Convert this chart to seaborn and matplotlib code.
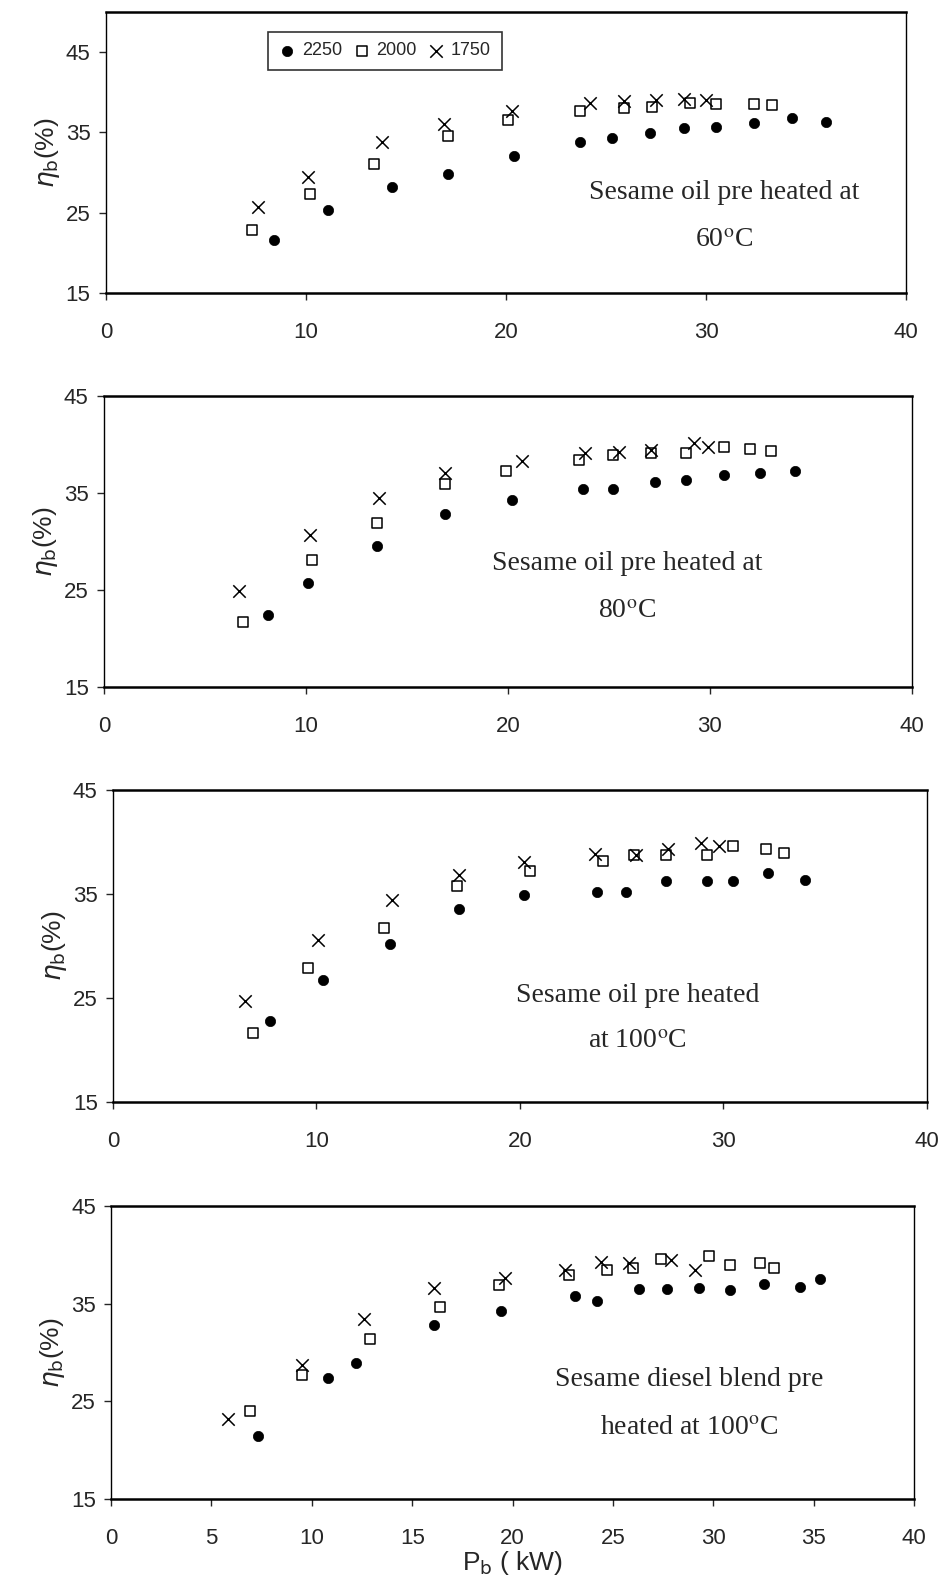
import numpy as np
import pandas as pd
import matplotlib.pyplot as plt
import seaborn as sns

sns.set_style("ticks")
plt.rcParams['font.family'] = ['Liberation Sans', 'DejaVu Sans']

# Panel 1: sesame oil pre heated at 60 C
p60_x_2250 = [8.4, 11.1, 14.3, 17.1, 20.4, 23.7, 25.3, 27.2, 28.9, 30.5, 32.4, 34.3, 36.0]
p60_y_2250 = [21.6, 25.3, 28.2, 29.8, 32.0, 33.8, 34.3, 34.9, 35.5, 35.7, 36.1, 36.8, 36.3]
p60_x_2000 = [7.3, 10.2, 13.4, 17.1, 20.1, 23.7, 25.9, 27.3, 29.2, 30.5, 32.4, 33.3]
p60_y_2000 = [22.8, 27.3, 31.0, 34.5, 36.5, 37.7, 38.0, 38.2, 38.6, 38.5, 38.5, 38.4]
p60_x_1750 = [7.6, 10.1, 13.8, 16.9, 20.3, 24.2, 25.9, 27.5, 28.9, 30.0]
p60_y_1750 = [25.7, 29.4, 33.8, 36.0, 37.7, 38.6, 38.9, 39.0, 39.2, 39.0]

# Panel 2: 80 C
p80_x_2250 = [8.1, 10.1, 13.5, 16.9, 20.2, 23.7, 25.2, 27.3, 28.8, 30.7, 32.5, 34.2]
p80_y_2250 = [22.4, 25.7, 29.5, 32.8, 34.3, 35.4, 35.4, 36.1, 36.3, 36.8, 37.0, 37.3]
p80_x_2000 = [6.9, 10.3, 13.5, 16.9, 19.9, 23.5, 25.2, 27.1, 28.8, 30.7, 32.0, 33.0]
p80_y_2000 = [21.7, 28.1, 31.9, 35.9, 37.3, 38.4, 38.9, 39.1, 39.1, 39.7, 39.5, 39.3]
p80_x_1750 = [6.7, 10.2, 13.6, 16.9, 20.7, 23.8, 25.5, 27.1, 29.2, 29.9]
p80_y_1750 = [24.9, 30.7, 34.5, 37.0, 38.3, 39.1, 39.2, 39.4, 40.1, 39.7]

# Panel 3: 100 C
p100_x_2250 = [7.7, 10.3, 13.6, 17.0, 20.2, 23.8, 25.2, 27.2, 29.2, 30.5, 32.2, 34.0]
p100_y_2250 = [22.8, 26.7, 30.2, 33.6, 34.9, 35.2, 35.2, 36.3, 36.3, 36.3, 37.0, 36.4]
p100_x_2000 = [6.9, 9.6, 13.3, 16.9, 20.5, 24.1, 25.6, 27.2, 29.2, 30.5, 32.1, 33.0]
p100_y_2000 = [21.6, 27.9, 31.7, 35.8, 37.2, 38.2, 38.8, 38.8, 38.8, 39.6, 39.3, 39.0]
p100_x_1750 = [6.5, 10.1, 13.7, 17.0, 20.2, 23.7, 25.7, 27.3, 28.9, 29.8]
p100_y_1750 = [24.7, 30.6, 34.4, 36.8, 38.1, 38.9, 38.8, 39.3, 39.9, 39.6]

# Panel 4: sesame diesel blend pre heated at 100 C
blend_x_2250 = [7.3, 10.8, 12.2, 16.1, 19.4, 23.1, 24.2, 26.3, 27.7, 29.3, 30.8, 32.5, 34.3, 35.3]
blend_y_2250 = [21.5, 27.4, 28.9, 32.8, 34.3, 35.8, 35.3, 36.5, 36.5, 36.6, 36.4, 37.0, 36.7, 37.5]
blend_x_2000 = [6.9, 9.5, 12.9, 16.4, 19.3, 22.8, 24.7, 26.0, 27.4, 29.8, 30.8, 32.3, 33.0]
blend_y_2000 = [24.0, 27.7, 31.4, 34.7, 36.9, 38.0, 38.5, 38.7, 39.6, 39.9, 39.0, 39.2, 38.7]
blend_x_1750 = [5.8, 9.5, 12.6, 16.1, 19.6, 22.6, 24.4, 25.8, 27.9, 29.1]
blend_y_1750 = [23.2, 28.7, 33.5, 36.6, 37.6, 38.5, 39.3, 39.2, 39.5, 38.5]

speeds = ['2250', '2000', '1750']
notes = [('Sesame oil pre heated at', '60$^{\\rm o}$C'),
         ('Sesame oil pre heated at', '80$^{\\rm o}$C'),
         ('Sesame oil pre heated', 'at 100$^{\\rm o}$C'),
         ('Sesame diesel blend pre', 'heated at 100$^{\\rm o}$C')]

series = [
    [(p60_x_2250, p60_y_2250), (p60_x_2000, p60_y_2000), (p60_x_1750, p60_y_1750)],
    [(p80_x_2250, p80_y_2250), (p80_x_2000, p80_y_2000), (p80_x_1750, p80_y_1750)],
    [(p100_x_2250, p100_y_2250), (p100_x_2000, p100_y_2000), (p100_x_1750, p100_y_1750)],
    [(blend_x_2250, blend_y_2250), (blend_x_2000, blend_y_2000), (blend_x_1750, blend_y_1750)],
]

# layout (figure fractions) and per-panel settings
rects = [[0.112, 0.815, 0.847, 0.1775],
         [0.110, 0.566, 0.855, 0.184],
         [0.1196, 0.3038, 0.861, 0.197],
         [0.1175, 0.053, 0.850, 0.185]]
ytops = [50, 45, 45, 45]
xsteps = [10, 10, 10, 5]
note_xy = [(30.9, 27.5, 21.5), (25.9, 27.7, 22.8), (25.8, 25.3, 20.8), (28.8, 27.3, 22.3)]

marker_kw = [
    dict(marker='o', s=55, color='black', edgecolor='black', linewidth=0.5),
    dict(marker='s', s=45, color='black', facecolor='white', edgecolor='black', linewidth=1.1),
    dict(marker='x', s=80, color='black', edgecolor=None, linewidth=1.1),
]

fig = plt.figure(figsize=(9.45, 15.83), dpi=100)

for i in range(4):
    ax = fig.add_axes(rects[i])
    for (xs, ys), sp, kw in zip(series[i], speeds, marker_kw):
        df = pd.DataFrame({'Pb': xs, 'eta': ys})
        sns.scatterplot(data=df, x='Pb', y='eta', ax=ax, label=sp, zorder=3, **kw)

    ax.set_xlim(0, 40)
    ax.set_ylim(15, ytops[i])
    ax.set_xticks(np.arange(0, 41, xsteps[i]))
    ax.set_yticks([15, 25, 35, 45])
    ax.tick_params(axis='x', direction='out', length=5, width=1, pad=16, labelsize=16)
    ax.tick_params(axis='y', direction='out', length=5, width=1, pad=6, labelsize=16)
    for side in ['left', 'right']:
        ax.spines[side].set_linewidth(1.0)
    for side in ['top', 'bottom']:
        ax.spines[side].set_linewidth(1.8)
    for sp in ax.spines.values():
        sp.set_color('black')

    ax.set_ylabel(r'$\eta_{\mathrm{b}}$(%)', fontsize=19, labelpad=3)
    if i == 3:
        ax.set_xlabel(r'P$_{\mathrm{b}}$ ( kW)', fontsize=19, labelpad=0)
    else:
        ax.set_xlabel('')

    nx, ny1, ny2 = note_xy[i]
    ax.text(nx, ny1, notes[i][0], ha='center', va='center', fontsize=20,
            family=['Liberation Serif'], math_fontfamily='stix')
    ax.text(nx, ny2, notes[i][1], ha='center', va='center', fontsize=20,
            family=['Liberation Serif'], math_fontfamily='stix')

    if i == 0:
        leg = ax.legend(ncol=3, loc='upper left', bbox_to_anchor=(0.202, 0.93),
                        fontsize=13, frameon=True, fancybox=False, handletextpad=0.3,
                        columnspacing=0.6, handlelength=1.0, borderpad=0.6,
                        borderaxespad=0)
        leg.get_frame().set_edgecolor('black')
        leg.get_frame().set_linewidth(1.2)
    else:
        if ax.get_legend() is not None:
            ax.get_legend().remove()

fig.savefig('out.png', dpi=100, facecolor='white')
